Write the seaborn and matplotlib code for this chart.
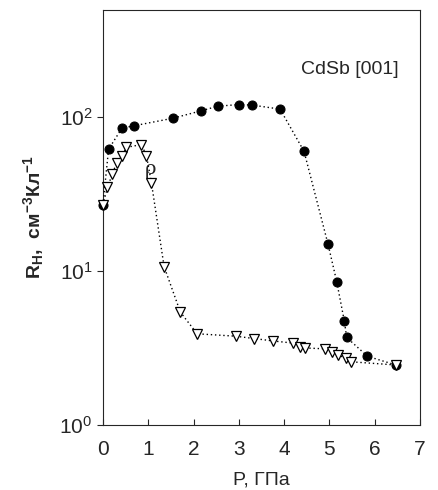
import numpy as np
import pandas as pd
import seaborn as sns
import matplotlib.pyplot as plt

#region 1. Data
# R_H (filled circles)
p_rh = [0.0, 0.125, 0.42, 0.68, 1.54, 2.16, 2.53, 3.0, 3.3, 3.91, 4.44, 4.97, 5.16, 5.33, 5.38, 5.84, 6.47]
rh = [27.0, 62, 85, 88, 98.5, 110, 118, 121, 120, 113, 60, 14.9, 8.55, 4.7, 3.7, 2.79, 2.45]

# rho (open triangles)
p_rho = [0.0, 0.10, 0.21, 0.30, 0.42, 0.52, 0.85, 0.96, 1.07, 1.35, 1.71, 2.08, 2.93, 3.34, 3.76,
         4.20, 4.35, 4.47, 4.91, 5.06, 5.20, 5.36, 5.48, 6.47]
rho = [27.0, 35, 42.9, 50.5, 56, 63.8, 66.4, 56.4, 37.6, 10.7, 5.4, 3.91, 3.77, 3.64, 3.51,
       3.40, 3.23, 3.16, 3.12, 2.98, 2.85, 2.70, 2.57, 2.45]
#endregion

#region 2. Style
sns.set_style('ticks')
plt.rcParams['font.family'] = ['Liberation Sans', 'DejaVu Sans']
plt.rcParams['mathtext.fontset'] = 'custom'
plt.rcParams['mathtext.rm'] = 'Liberation Sans'
plt.rcParams['mathtext.it'] = 'Liberation Sans:italic'
plt.rcParams['mathtext.bf'] = 'Liberation Sans:bold'
#endregion

#region 3. Plot
fig = plt.figure(figsize=(4.38, 4.9), dpi=100)
ax = fig.add_axes([0.235, 0.133, 0.724, 0.847])

dots = (0, (1, 2))
sns.lineplot(x=p_rh, y=rh, sort=False, estimator=None, ax=ax, color='black',
             linestyle=dots, linewidth=1, marker='o', markersize=6.5,
             markerfacecolor='black', markeredgecolor='black', clip_on=False, zorder=3)
sns.lineplot(x=p_rho, y=rho, sort=False, estimator=None, ax=ax, color='black',
             linestyle=dots, linewidth=1, marker='v', markersize=6.5,
             markerfacecolor='white', markeredgecolor='black', markeredgewidth=0.9,
             clip_on=False, zorder=4)

ax.set_yscale('log')
ax.set_ylim(1, 500)
ax.set_xlim(0, 7)
ax.set_xticks(range(8))
ax.set_yticks([1, 10, 100])
ax.set_yticklabels([r'$10^0$', r'$10^1$', r'$10^2$'])
ax.minorticks_off()
ax.tick_params(axis='x', labelsize=15, length=4, width=0.8, direction='in', pad=11)
ax.tick_params(axis='y', labelsize=15, length=4, width=0.8, direction='out')
for s in ax.spines.values():
    s.set_linewidth(0.8)

ax.set_xlabel('P, ГПа', fontsize=14, labelpad=9)
ax.set_ylabel(r'R$_\mathbf{H}$,  см$^{\mathbf{-3}}$Кл$^{\mathbf{-1}}$', fontsize=14,
              fontweight='bold', labelpad=10)

ax.text(5.45, 206, 'CdSb [001]', fontsize=14, ha='center', va='center')
ax.text(1.06, 46, 'ρ', fontsize=14, ha='center', va='center', family='DejaVu Serif')

plt.savefig('out.png', dpi=100)
#endregion
